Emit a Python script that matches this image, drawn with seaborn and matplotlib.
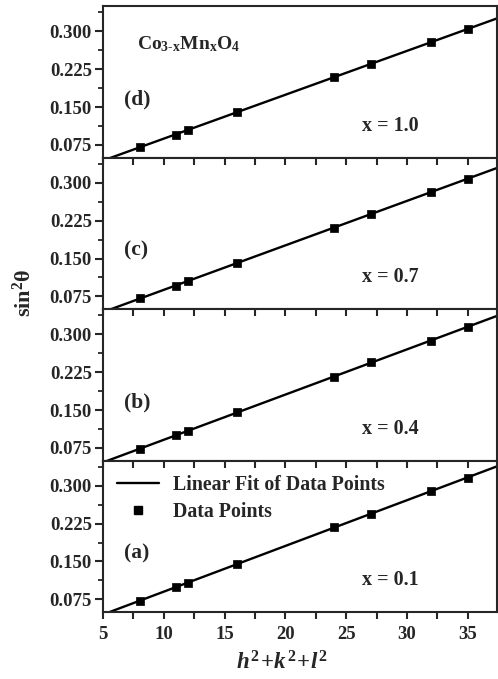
import numpy as np
import pandas as pd
import matplotlib
matplotlib.use("Agg")
import matplotlib.pyplot as plt
import seaborn as sns
from matplotlib.ticker import MultipleLocator, FormatStrFormatter
from matplotlib.lines import Line2D

# ---- data ----
hkl_sum = [8, 11, 12, 16, 24, 27, 32, 35]
sin2_a = [0.0719, 0.0991, 0.1082, 0.1454, 0.2176, 0.2443, 0.2896, 0.3162]   # x = 0.1
sin2_b = [0.0733, 0.0997, 0.1083, 0.1458, 0.2164, 0.2442, 0.2872, 0.3150]   # x = 0.4
sin2_c = [0.0713, 0.0963, 0.1057, 0.1409, 0.2104, 0.2383, 0.2820, 0.3085]   # x = 0.7
sin2_d = [0.0702, 0.0957, 0.1052, 0.1400, 0.2097, 0.2350, 0.2790, 0.3045]   # x = 1.0
panel_tags = ["(d)", "(c)", "(b)", "(a)"]
compositions = ["x = 1.0", "x = 0.7", "x = 0.4", "x = 0.1"]
series = [sin2_d, sin2_c, sin2_b, sin2_a]
x_range = [5, 37.4]

sns.set_style("ticks")
plt.rcParams["font.family"] = ["Liberation Serif", "DejaVu Serif"]
plt.rcParams["font.weight"] = "bold"
plt.rcParams["mathtext.fontset"] = "custom"
plt.rcParams["mathtext.rm"] = "Liberation Serif:bold"
plt.rcParams["mathtext.bf"] = "Liberation Serif:bold"
plt.rcParams["mathtext.it"] = "Liberation Serif:italic:bold"
plt.rcParams["mathtext.bfit"] = "Liberation Serif:italic:bold"

fig = plt.figure(figsize=(4.98, 6.79), dpi=100)
left, right, top, bottom = 0.207, 0.998, 0.991, 0.0987
h = (top - bottom) / 4
axes = []
for i in range(4):
    ax = fig.add_axes([left, top - (i + 1) * h, right - left, h])
    axes.append(ax)

for i, (ax, vals) in enumerate(zip(axes, series)):
    df = pd.DataFrame({"n": hkl_sum, "s": vals})
    k, b = np.polyfit(df["n"], df["s"], 1)
    fit = pd.DataFrame({"n": x_range, "s": [k * x_range[0] + b, k * x_range[1] + b]})
    sns.lineplot(data=fit, x="n", y="s", ax=ax, color="black", lw=1.7)
    sns.scatterplot(data=df, x="n", y="s", ax=ax, marker="s", s=36, color="black",
                    edgecolor="black", linewidth=0.5, zorder=5)
    ax.set_xlim(5, 37.4)
    ax.set_ylim(0.05, 0.35)
    ax.set_xlabel("")
    ax.set_ylabel("")
    ax.yaxis.set_major_locator(MultipleLocator(0.075))
    ax.yaxis.set_minor_locator(MultipleLocator(0.0375))
    ax.yaxis.set_major_formatter(FormatStrFormatter("%.3f"))
    ax.xaxis.set_major_locator(MultipleLocator(5))
    ax.xaxis.set_minor_locator(MultipleLocator(2.5))
    for sp in ax.spines.values():
        sp.set_linewidth(1.5)
        sp.set_visible(True)
    ax.tick_params(axis="y", which="major", direction="out", length=6, width=1.5,
                   labelsize=13.5, pad=2)
    ax.tick_params(axis="y", which="minor", direction="out", length=3.5, width=1.3)
    if i == 0:
        ax.tick_params(axis="x", which="both", bottom=False, top=False, labelbottom=False)
    elif i < 3:
        ax.tick_params(axis="x", which="both", bottom=False, top=True, direction="in",
                       labelbottom=False, length=5, width=1.5)
    else:
        ax.tick_params(axis="x", which="both", bottom=True, top=False, direction="out",
                       labelbottom=True, length=5, width=1.5, labelsize=13.5, pad=5)
        secax = ax.secondary_xaxis("top")
        secax.xaxis.set_major_locator(MultipleLocator(5))
        secax.xaxis.set_minor_locator(MultipleLocator(2.5))
        secax.tick_params(axis="x", which="both", direction="in", length=5, width=1.5,
                          labeltop=False)
        secax.spines["top"].set_visible(False)
    for lab in ax.get_xticklabels() + ax.get_yticklabels():
        lab.set_fontweight("bold")
    ax.text(0.052, 0.385, panel_tags[i], transform=ax.transAxes, fontsize=15.5,
            fontweight="bold", va="center", ha="left")
    ax.text(0.73, 0.21, compositions[i], transform=ax.transAxes, fontsize=14.5,
            fontweight="bold", va="center", ha="center")

axes[0].text(0.086, 0.75, r"$\mathbf{Co_{3\text{-}x}Mn_{x}O_{4}}$", transform=axes[0].transAxes,
             fontsize=14, va="center", ha="left")

handles = [Line2D([], [], color="black", lw=1.7),
           Line2D([], [], color="black", marker="s", ls="none", markersize=6)]
axes[3].legend(handles, ["Linear Fit of Data Points", "Data Points"], loc="upper left",
               bbox_to_anchor=(-0.005, 1.01), frameon=False, handlelength=2.1,
               handletextpad=0.7, borderaxespad=0.4, labelspacing=0.35,
               prop={"family": "Liberation Serif", "weight": "bold", "size": 14.3})

axes[3].set_xlabel(r"$\mathbfit{h}^{\,2}\!+\!\mathbfit{k}^{\,2}\!+\!\mathbfit{l}^{\,2}$",
                   fontsize=16.5, labelpad=2)
axes[3].xaxis.set_label_coords(0.455, -0.26)
fig.text(0.048, 1 - 293 / 679, r"$\mathrm{sin}^{2}\mathrm{\theta}$", rotation=90, fontsize=16,
         va="center", ha="center")

fig.savefig("out.png", dpi=100)
